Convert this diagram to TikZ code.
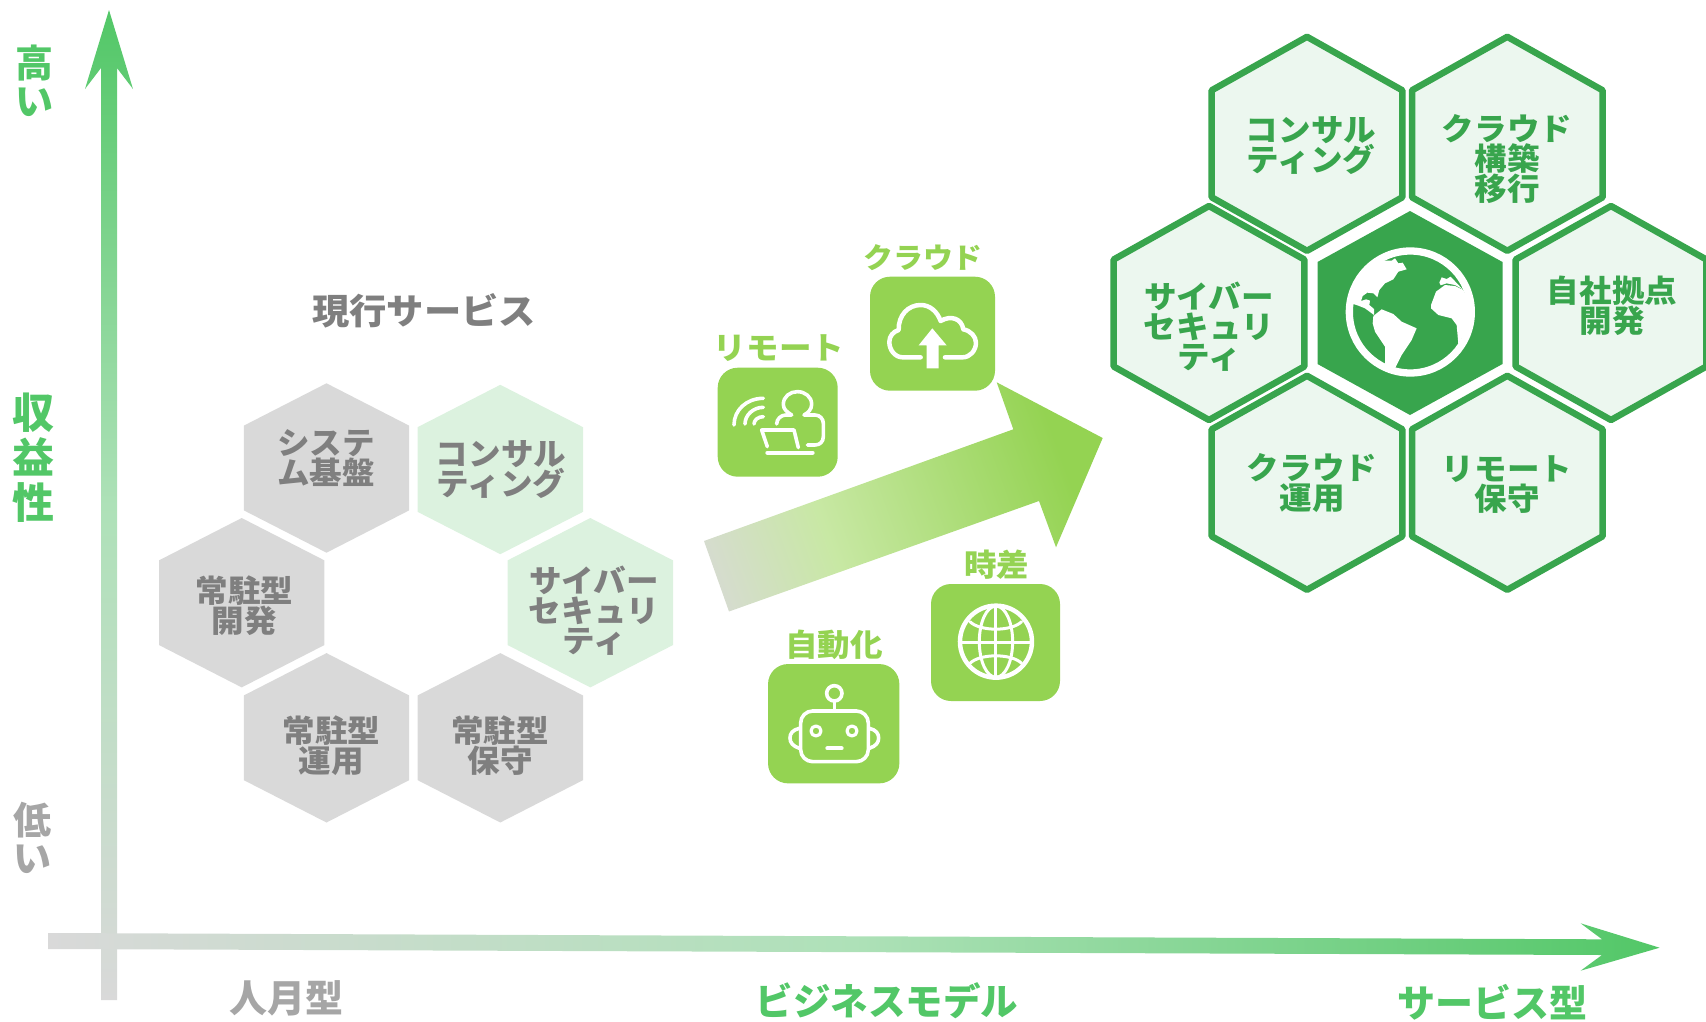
\documentclass[tikz,border=0pt]{standalone}
\usepackage{fontspec}
\usepackage{xcolor}
\setmainfont{Noto Sans CJK JP}
\definecolor{axisgreen}{HTML}{52C767}
\definecolor{axismid}{HTML}{AEE1B8}
\definecolor{axisgray}{HTML}{D9D9D9}
\definecolor{lowgray}{HTML}{A6A6A6}
\definecolor{hexgray}{HTML}{D9D9D9}
\definecolor{hexpale}{HTML}{DCF2DF}
\definecolor{textgray}{HTML}{7F7F7F}
\definecolor{darkgreen}{HTML}{38A54D}
\definecolor{palegreen}{HTML}{ECF7EF}
\definecolor{tilegreen}{HTML}{94D352}
\definecolor{arrowmid}{HTML}{C8E8A4}
\pgfdeclarehorizontalshading{bigarrow}{100bp}{color(0bp)=(axisgray); color(17bp)=(axisgray); color(38bp)=(arrowmid); color(73bp)=(tilegreen); color(100bp)=(tilegreen)}
\newcommand{\jpfont}[2]{\fontsize{#1}{#2}\selectfont\bfseries\lineskiplimit=-50pt\relax}
\tikzset{
  txt/.style={inner sep=0pt,align=center,font=\jpfont{31}{30}},
  wide/.style={xscale=1.05,transform shape},
  hextxt/.style={txt,wide,text=textgray},
  newtxt/.style={txt,wide,text=darkgreen},
  ticktxt/.style={txt,wide,text=tilegreen},
  axistxt/.style={txt,text=axisgreen,font=\jpfont{38}{38}},
  lowtxt/.style={txt,text=lowgray,font=\jpfont{38}{38}},
  hexold/.style={fill=hexgray},
  hexcur/.style={fill=hexpale},
  hexnew/.style={draw=darkgreen,fill=palegreen,line width=6.5pt,line join=round},
  tile/.style={fill=tilegreen,rounded corners=20pt,inner sep=0pt},
  ico/.style={draw=white,line width=4.5pt,line cap=round,line join=round},
}
\newcommand{\hexa}[5]{\path[#1,shift={(#2,#3)}] (0,-#5) -- (#4,-#5/2) -- (#4,#5/2) -- (0,#5) -- (-#4,#5/2) -- (-#4,-#5/2) -- cycle;}
\begin{document}
\begin{tikzpicture}[x=1pt,y=-1pt]
        \useasboundingbox (0,0) rectangle (1706,1021);
        % axes
        \shade[top color=axisgreen,bottom color=axisgray,middle color=axismid]
          (109,10) -- (133,89) -- (117,68) -- (117,1000) -- (101,1000) -- (101,68) -- (85,89) -- cycle;
        \shade[left color=axisgray,right color=axisgreen,middle color=axismid]
          (48,933) -- (1602,939.3) -- (1580.6,923.3) -- (1659.6,947.7) -- (1580.6,970.7) -- (1602,955) -- (48,949) -- cycle;
        \node[axistxt](high) at (35,81) {高\\い};
        \node[axistxt,font=\jpfont{42}{45}](profit) at (33.5,458) {収\\益\\性};
        \node[lowtxt](low) at (32,838) {低\\い};
        \node[lowtxt](manmonth) at (286,998) {人月型};
        \node[axistxt,font=\jpfont{37.5}{38}](model) at (887,1001) {ビジネスモデル};
        \node[axistxt](servicetype) at (1492,1002) {サービス型};
        % current services
        \node[hextxt,font=\jpfont{35.5}{37}](current) at (424,311) {現行サービス};
        \hexa{hexold}{326.5}{468}{82.7}{84.7}
        \hexa{hexcur}{500.3}{469.5}{82.7}{84.7}
        \hexa{hexcur}{590.3}{602.7}{82.7}{84.7}
        \hexa{hexold}{241.7}{602.7}{82.7}{84.7}
        \hexa{hexold}{326.5}{737.8}{82.7}{84.7}
        \hexa{hexold}{500.3}{737.8}{82.7}{84.7}
        \node[hextxt](sys) at (326,458) {システ\\ム基盤};
        \node[hextxt](consult) at (501,470) {コンサル\\ティング};
        \node[hextxt](cyber) at (594,611) {サイバー\\セキュリ\\ティ};
        \node[hextxt](resdev) at (244.5,606) {常駐型\\開発};
        \node[hextxt](resops) at (331.5,746) {常駐型\\運用};
        \node[hextxt](resmaint) at (500,746) {常駐型\\保守};
        % big arrow
        \shade[shading=bigarrow,shading angle=20]
          (704,541) -- (1013.3,429.3) -- (996.7,382.3) -- (1102.7,438) -- (1056,547.3) -- (1039,501) -- (729,611.5) -- cycle;
        % tiles
        \node[tile,minimum width=125pt,minimum height=114pt](cloudtile) at (932.5,333.7) {};
        \node[tile,minimum width=120pt,minimum height=109pt](remotetile) at (777.7,422.2) {};
        \node[tile,minimum width=129pt,minimum height=117pt](globetile) at (995.5,642.5) {};
        \node[tile,minimum width=131.3pt,minimum height=119.3pt](robottile) at (833.7,723.7) {};
        \node[ticktxt,font=\jpfont{28.5}{30}](cloudlabel) at (923,258) {クラウド};
        \node[ticktxt](remotelabel) at (779,348) {リモート};
        \node[ticktxt](timelabel) at (996.7,565) {時差};
        \node[ticktxt](autolabel) at (834,645) {自動化};
        % cloud icon
        \begin{scope}[shift={(680,220)},x=0.3333pt,y=-0.3333pt]
          \draw[ico] (722,412) -- (668,412) .. controls (645,412) and (628,390) .. (628,366) .. controls (628,348) and (640,335) .. (656,330) .. controls (655,285) and (685,255) .. (722,255) .. controls (750,255) and (772,275) .. (782,303) .. controls (812,285) and (845,295) .. (850,328) .. controls (872,332) and (888,350) .. (888,368) .. controls (888,392) and (870,412) .. (848,412) -- (795,412);
          \fill[white] (757,325) -- (800,376) -- (776,376) -- (776,445) -- (740,445) -- (740,376) -- (716,376) -- cycle;
          % remote icon
          \draw[ico,line width=3.6pt] (250,535) .. controls (200,535) and (162,570) .. (162,615);
          \draw[ico,line width=3.6pt] (250,562) .. controls (220,562) and (195,585) .. (195,612);
          \draw[ico,line width=3.6pt] (250,590) .. controls (235,590) and (222,600) .. (222,612);
          \draw[ico,line width=3.6pt] (290,612) .. controls (290,597) and (303,585) .. (318,585) -- (335,585) .. controls (320,575) and (310,568) .. (310,553) .. controls (310,530) and (330,515) .. (352,515) .. controls (375,515) and (395,530) .. (395,553) .. controls (395,568) and (385,578) .. (372,585) -- (405,585) .. controls (420,585) and (430,597) .. (430,610) -- (430,650) .. controls (430,665) and (420,675) .. (405,675) -- (382,675);
          \draw[ico,line width=3.6pt] (262,680) -- (245,630) -- (342,630) -- (355,683);
          \draw[ico,line width=4pt] (262,698) -- (398,698);
        \end{scope}
        % globe and robot icons
        \begin{scope}[shift={(740,530)},x=0.3333pt,y=-0.3333pt]
          \draw[ico] (768,335) circle[radius=108];
          \draw[ico,line width=3pt] (768,228) -- (768,442);
          \draw[ico,line width=3pt] (660,338) -- (875,338);
          \draw[ico,line width=3pt] (768,335) ellipse[x radius=50,y radius=107];
          \draw[ico,line width=3pt] (690,275) .. controls (720,305) and (815,305) .. (845,275);
          \draw[ico,line width=3pt] (690,400) .. controls (720,370) and (815,370) .. (845,400);
          \draw[ico,line width=3.6pt,rounded corners=12pt] (182,543) rectangle (385,695);
          \draw[ico,line width=3.6pt] (283,490) circle[radius=23];
          \draw[ico,line width=3.6pt] (283,513) -- (283,543);
          \draw[ico,line width=3.6pt] (178,595) .. controls (158,600) and (150,610) .. (150,624) .. controls (150,638) and (158,648) .. (178,655);
          \draw[ico,line width=3.6pt] (388,595) .. controls (408,600) and (416,610) .. (416,624) .. controls (416,638) and (408,648) .. (388,655);
          \draw[ico,line width=3.2pt] (228,603) circle[radius=15];
          \draw[ico,line width=3.2pt] (336,603) circle[radius=15];
          \draw[ico,line width=4pt] (262,655) -- (305,655);
        \end{scope}
        % new services
        \hexa{hexnew}{1307}{143.8}{95.3}{107}
        \hexa{hexnew}{1507.3}{143.8}{95.3}{107}
        \hexa{hexnew}{1209}{313}{95.3}{107}
        \hexa{hexnew}{1611}{313}{95.3}{107}
        \hexa{hexnew}{1307}{482.8}{95.3}{107}
        \hexa{hexnew}{1507.3}{482.8}{95.3}{107}
        \hexa{fill=darkgreen}{1410}{313}{92.5}{102}
        \node[newtxt](nconsult) at (1311,146) {コンサル\\ティング};
        \node[newtxt](ncloudbuild) at (1507,159) {クラウド\\構築\\移行};
        \node[newtxt](ncyber) at (1209,327) {サイバー\\セキュリ\\ティ};
        \node[newtxt](nowndev) at (1612,306) {自社拠点\\開発};
        \node[newtxt](ncloudops) at (1312,483) {クラウド\\運用};
        \node[newtxt](nremote) at (1507,485) {リモート\\保守};
        % earth
        \begin{scope}[shift={(1330,240)},x=0.3333pt,y=-0.3333pt]
          \draw[white,line width=7.3pt] (241,216) circle[radius=183];
          \fill[white] (155,62) -- (185,62) -- (195,55) -- (205,70) -- (218,68) -- (230,88) -- (205,95) -- (190,118) -- (165,130) -- (148,150) -- (142,172) -- (130,160) -- (112,158) -- (98,168) -- (93,183) -- (108,178) -- (120,182) -- (118,195) -- (132,207) -- (132,225) -- (105,205) -- (85,197) -- (70,192) -- (60,190) -- (72,125) -- (105,85) -- cycle;
          \fill[white] (130,228) -- (155,208) -- (190,222) -- (215,245) -- (260,265) -- (245,300) -- (215,345) -- (195,385) -- (165,385) -- (165,320) -- (135,275) -- (128,250) -- cycle;
          \fill[white] (303,195) -- (318,155) -- (345,135) -- (375,138) -- (400,150) -- (425,200) -- (410,270) -- (385,312) -- (380,255) -- (365,235) -- (325,225) -- (303,205) -- cycle;
          \fill[white] (328,128) -- (335,112) -- (350,117) -- (362,110) -- (398,148) -- (375,135) -- (350,130) -- (332,136) -- cycle;
        \end{scope}
\end{tikzpicture}
\end{document}
